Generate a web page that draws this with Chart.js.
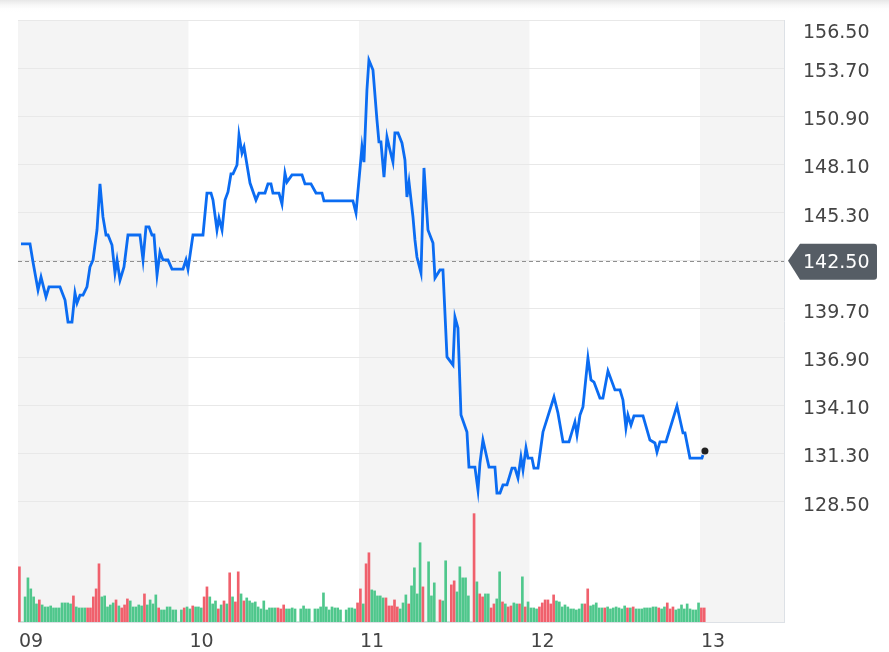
<!DOCTYPE html>
<html>
<head>
<meta charset="utf-8">
<script src="https://cdn.jsdelivr.net/npm/chart.js@4.4.0/dist/chart.umd.min.js"></script>
<style>
  html, body { margin: 0; padding: 0; background: #fff; }
  #wrap { position: relative; width: 889px; height: 652px; }
</style>
</head>
<body>
<div id="wrap"><canvas id="priceChart" width="889" height="652"></canvas></div>
<script>
// x axis is in hours from the start of day 09; one volume bar every 24 minutes
const dayLabels = ['09', '10', '11', '12', '13'];
const hoursPerDay = 24;
const barHours = 0.4;
const axisEndHours = 107.83;

const priceTicks = [128.5, 131.3, 134.1, 136.9, 139.7, 142.5, 145.3, 148.1, 150.9, 153.7, 156.5];
const previousClose = 142.5;
const lastHour = 96.7;
const lastPrice = 131.44;

const priceHours = [
  0.42, 1.69, 2.11, 2.82, 3.24, 3.94, 4.36, 5.91, 6.62, 7.04, 7.60, 8.02, 8.31, 8.73, 9.15, 9.71,
  10.13, 10.56, 11.12, 11.54, 11.96, 12.39, 12.67, 13.23, 13.65, 13.94, 14.36, 14.92, 15.48, 17.17,
  17.60, 18.02, 18.44, 18.86, 19.14, 19.57, 19.99, 20.41, 21.11, 21.68, 23.23, 23.65, 23.93,
  24.63, 26.04, 26.60, 27.17, 27.45, 28.01, 28.29, 28.72, 29.14, 29.56, 29.98, 30.27, 30.83, 31.11,
  31.53, 31.82, 32.66, 33.50, 33.92, 34.77, 35.19, 35.61, 35.89, 36.74, 37.16, 37.58, 37.86, 38.57,
  39.98, 40.40, 41.24, 41.95, 42.79, 43.07, 47.15, 47.58,
  48.42, 48.70, 49.12, 49.40, 49.97, 50.53, 50.81, 51.09, 51.52, 51.94, 52.36, 52.78, 53.06, 53.49,
  54.05, 54.47, 54.75, 55.04, 55.60, 55.88, 56.16, 56.73, 57.15, 57.71, 58.42, 58.70, 59.40, 59.82,
  60.39, 61.23, 61.51, 61.93, 62.36, 63.20, 63.48, 64.32, 64.75, 65.03, 65.45, 66.30, 67.14, 67.42,
  67.85, 68.27, 68.83, 69.54, 69.96, 70.38, 70.80, 71.09, 71.51,
  71.79, 72.35, 72.63, 73.20, 73.90, 75.45, 76.01, 76.72, 77.56, 78.40, 78.69, 79.11, 79.53, 80.23,
  80.66, 81.08, 81.92, 82.34, 83.05, 84.03, 84.74, 85.16, 85.58, 85.86, 86.29, 86.71, 87.98, 88.96,
  89.66, 89.95, 90.37, 91.21, 92.76, 93.61, 93.89, 94.59, 96.28, 96.42
];
const priceValues = [
  143.48, 143.48, 142.43, 140.80, 141.56, 140.40, 140.98, 140.98, 140.22, 138.94, 138.94, 140.63, 140.05, 140.51, 140.51, 140.98,
  142.14, 142.55, 144.29, 146.97, 145.05, 144.00, 144.00, 143.42, 141.79, 142.55, 141.38, 142.14, 144.00, 144.00,
  142.55, 144.47, 144.47, 144.00, 144.00, 141.67, 143.01, 142.55, 142.55, 142.02, 142.02, 142.55, 142.02,
  144.00, 144.00, 146.44, 146.44, 146.03, 144.29, 144.99, 144.29, 146.03, 146.50, 147.55, 147.55, 148.07, 149.81,
  148.77, 149.12, 147.02, 146.03, 146.44, 146.44, 146.97, 146.97, 146.44, 146.44, 145.80, 147.60, 147.08, 147.49,
  147.49, 146.97, 146.97, 146.44, 146.44, 145.98, 145.98, 145.28,
  149.12, 148.24, 152.43, 154.17, 153.59, 150.69, 149.41, 149.41, 147.37, 149.70, 148.94, 148.24, 149.93, 149.93,
  149.35, 148.36, 146.21, 147.08, 145.05, 143.71, 142.72, 141.79, 147.90, 144.29, 143.53, 141.50, 141.97, 141.97,
  136.91, 136.44, 139.23, 138.59, 133.53, 132.55, 130.51, 130.51, 129.17, 130.74, 132.08, 130.51, 130.51, 129.00,
  129.00, 129.47, 129.47, 130.45, 130.45, 129.87, 131.09, 130.34, 131.62,
  131.03, 131.03, 130.45, 130.45, 132.55, 134.58, 133.65, 131.97, 131.97, 133.13, 132.37, 133.53, 134.00, 136.85,
  135.57, 135.45, 134.52, 134.52, 136.09, 134.99, 134.99, 134.41, 132.78, 133.53, 132.95, 133.48, 133.48, 132.08,
  131.91, 131.38, 131.97, 131.97, 134.06, 132.49, 132.49, 131.03, 131.03, 131.21
];

// volume per bar (thousands)
const volumeValues = [
  55, 0, 25, 44, 33, 25, 18, 22, 17, 15, 15, 16, 14, 14, 14, 19, 19, 19, 18, 26,
  15, 14, 14, 14, 14, 14, 25, 33, 58, 25, 26, 15, 17, 19, 22, 16, 14, 17, 23, 21,
  15, 15, 17, 16, 28, 17, 22, 18, 27, 14, 12, 12, 15, 15, 12, 12, 0, 12, 14, 15,
  13, 16, 15, 15, 14, 25, 35, 25, 18, 21, 13, 17, 21, 18, 49, 25, 20, 50, 28, 21,
  24, 21, 19, 20, 15, 13, 21, 12, 14, 14, 14, 14, 13, 17, 13, 13, 14, 13, 0, 13,
  16, 13, 13, 0, 13, 13, 15, 29, 15, 12, 15, 14, 14, 12, 0, 12, 14, 14, 13, 19,
  33, 18, 58, 69, 32, 31, 26, 26, 24, 24, 16, 16, 22, 15, 13, 19, 27, 18, 36, 54,
  28, 79, 35, 0, 60, 26, 39, 0, 22, 21, 61, 0, 37, 41, 30, 55, 44, 44, 26, 0,
  108, 40, 28, 25, 28, 28, 14, 18, 23, 50, 20, 18, 15, 16, 19, 18, 18, 45, 15, 20,
  14, 14, 13, 15, 19, 22, 22, 18, 27, 21, 20, 15, 17, 15, 13, 13, 12, 13, 18, 18,
  33, 16, 17, 19, 14, 14, 14, 15, 13, 14, 15, 14, 13, 16, 14, 14, 15, 13, 13, 13,
  14, 14, 14, 15, 15, 14, 13, 15, 19, 13, 15, 12, 13, 17, 13, 18, 13, 12, 12, 19,
  14, 14
];
// did each bar close up (u) or down (d); '-' means no trades
const volumeSide = [
  // 09
  'd-uuuuud', 'uuuuuuuuuuu', 'd', 'uuuu', 'ddddd', 'uuuuu', 'duddd', 'uuuuu', 'd', 'uuuu', 'd', 'uuuuuu', '-udu',
  // 10
  'ud', 'uuu', 'dd', 'uuu', 'd', 'u', 'd', 'u', 'd', 'u', 'dd', 'u', 'd', 'uuuuuuuuuuu', 'ddd', 'uuuu', '-',
  'uuuu', '-', 'uuuuuuuuuu', '-', 'uuuu', 'd',
  // 11
  'd', 'u', 'dd', 'uuuuu', 'ddddd', 'uuu', 'd', 'uuuu', 'd', '-', 'uuu', '-', 'd', 'uu', '-', 'dd', 'uuuuu', '-',
  'd', 'u', 'dd', 'uu', 'dd', 'uu', 'd', 'u', 'dd', 'uu', 'd', 'u', 'd', 'u',
  // 12
  'uuu', 'dddddd', 'uuuuuuuuuu', 'dd', 'uuuuu', 'd', 'uuuuuuu', 'd', 'u', 'd', 'uuuuuuuu', 'd', 'uu', 'ddd', 'uuuuuuuuu',
  // 13
  'dd'
].join('');

const upColor = '#4fc78c';
const downColor = '#f0606c';

const ctx = document.getElementById('priceChart');

const decorPlugin = {
  id: 'decor',
  beforeDraw(chart) {
    const { ctx, chartArea: a, scales: { x } } = chart;
    ctx.save();
    const g = ctx.createLinearGradient(0, 0, 0, 12);
    g.addColorStop(0, '#e6e6e6');
    g.addColorStop(1, 'rgba(255,255,255,0)');
    ctx.fillStyle = g;
    ctx.fillRect(0, 0, chart.width, 12);
    // alternate day bands
    ctx.fillStyle = '#f4f4f4';
    dayLabels.forEach((lab, i) => {
      if (i % 2 !== 0) return;
      const x0 = x.getPixelForValue(i * hoursPerDay);
      const x1 = Math.min(x.getPixelForValue((i + 1) * hoursPerDay), a.right);
      ctx.fillRect(x0, a.top, x1 - x0, a.bottom - a.top);
    });
    ctx.restore();
  },
  beforeDatasetsDraw(chart) {
    const { ctx, chartArea: a, scales: { y } } = chart;
    const py = Math.round(y.getPixelForValue(previousClose)) + 0.5;
    ctx.save();
    ctx.strokeStyle = '#8f8f8f';
    ctx.lineWidth = 1;
    ctx.setLineDash([4, 3]);
    ctx.beginPath();
    ctx.moveTo(a.left, py);
    ctx.lineTo(a.right, py);
    ctx.stroke();
    ctx.restore();
  },
  afterDraw(chart) {
    const { ctx, chartArea: a, scales: { x, y } } = chart;
    ctx.save();
    ctx.font = '19px "DejaVu Sans"';
    ctx.textAlign = 'left';
    ctx.textBaseline = 'alphabetic';
    ctx.fillStyle = '#444444';
    priceTicks.forEach(v => {
      if (v === previousClose) return;
      const py = Math.max(y.getPixelForValue(v) + 9, a.top + 18);
      ctx.fillText(v.toFixed(2), a.right + 19, py);
    });
    dayLabels.forEach((lab, i) => {
      ctx.fillText(lab, x.getPixelForValue(i * hoursPerDay) + 1, a.bottom + 25);
    });

    // previous close badge
    const py = y.getPixelForValue(previousClose);
    const left = a.right + 16, right = a.right + 93, top = py - 17, bottom = py + 19, r = 3;
    ctx.fillStyle = '#565d65';
    ctx.beginPath();
    ctx.moveTo(a.right + 4, py);
    ctx.lineTo(left, top);
    ctx.lineTo(right - r, top);
    ctx.quadraticCurveTo(right, top, right, top + r);
    ctx.lineTo(right, bottom - r);
    ctx.quadraticCurveTo(right, bottom, right - r, bottom);
    ctx.lineTo(left, bottom);
    ctx.closePath();
    ctx.fill();
    ctx.fillStyle = '#ffffff';
    ctx.fillText(previousClose.toFixed(2), a.right + 19, py + 7.5);
    ctx.restore();
  }
};

new Chart(ctx, {
  type: 'bar',
  data: {
    datasets: [
      {
        type: 'scatter',
        data: [{ x: lastHour, y: lastPrice }],
        yAxisID: 'y',
        pointRadius: 3.5,
        pointBackgroundColor: '#222222',
        pointBorderWidth: 0,
        order: 0
      },
      {
        type: 'line',
        data: priceHours.map((h, i) => ({ x: h, y: priceValues[i] })),
        yAxisID: 'y',
        borderColor: '#0b6cf2',
        borderWidth: 2.8,
        pointRadius: 0,
        tension: 0,
        borderJoinStyle: 'miter',
        order: 1
      },
      {
        type: 'bar',
        data: volumeValues.map((v, i) => ({ x: (i + 0.5) * barHours, y: v })),
        yAxisID: 'vol',
        barThickness: 2,
        borderWidth: 0,
        backgroundColor: c => volumeSide[c.dataIndex] === 'd' ? downColor : upColor,
        order: 3
      }
    ]
  },
  options: {
    responsive: false,
    animation: false,
    layout: { padding: { left: 18, top: 20, right: 0, bottom: 0 } },
    plugins: { legend: { display: false }, tooltip: { enabled: false } },
    scales: {
      x: {
        type: 'linear',
        min: 0,
        max: axisEndHours,
        offset: false,
        grid: { display: false },
        border: { display: true, color: '#dde1e6' },
        ticks: { display: false },
        afterFit: s => { s.height = 30; }
      },
      y: {
        position: 'right',
        min: 121.5,
        max: 156.5,
        afterBuildTicks: s => { s.ticks = priceTicks.map(v => ({ value: v })); },
        grid: { color: '#e8e8e8', drawTicks: false },
        border: { display: true, color: '#dde1e6' },
        ticks: { display: false },
        afterFit: s => { s.width = 105; }
      },
      vol: {
        display: false,
        min: 0,
        max: 600
      }
    }
  },
  plugins: [decorPlugin]
});
</script>
</body>
</html>
